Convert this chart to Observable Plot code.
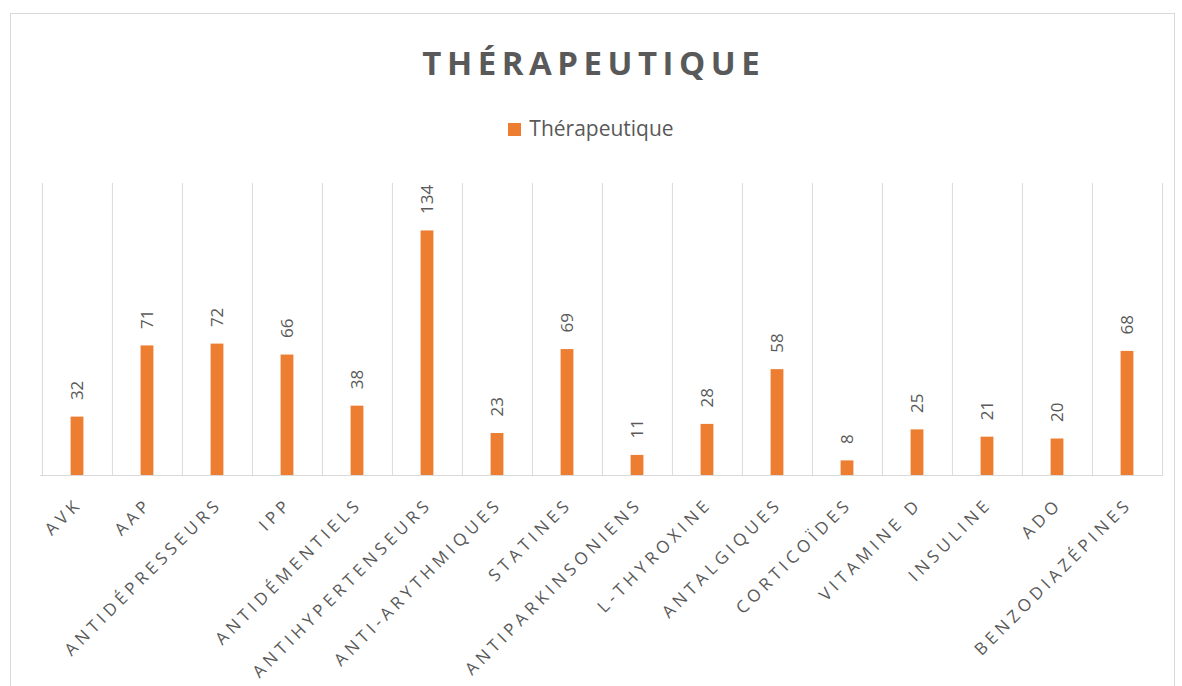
<!DOCTYPE html>
<html>
<head>
<meta charset="utf-8">
<script src="https://cdn.jsdelivr.net/npm/d3@7"></script>
<script src="https://cdn.jsdelivr.net/npm/@observablehq/plot@0.6"></script>
<style>
  html, body { margin: 0; padding: 0; background: #fff; }
  body { width: 1182px; height: 686px; position: relative; overflow: hidden; font-family: "Open Sans", sans-serif; }
  #frame { position: absolute; left: 10px; top: 13px; width: 1165px; height: 700px; border: 1px solid #d9d9d9; box-sizing: border-box; }
  #title { position: absolute; left: 0; width: 1182px; top: 40px; text-align: center; font-size: 33px; font-weight: 700; color: #595959; letter-spacing: 5.5px; padding-left: 5.5px; box-sizing: border-box; }
  #legend { position: absolute; left: 0; width: 1182px; top: 114px; text-align: center; font-size: 21px; color: #595959; }
  #legend .sw { display: inline-block; width: 13px; height: 13px; background: #ED7D31; margin-right: 8px; vertical-align: 0px; }
  #chart { position: absolute; left: 0; top: 160px; }
</style>
</head>
<body>
<div id="frame"></div>
<div id="title">THÉRAPEUTIQUE</div>
<div id="legend"><span class="sw"></span>Thérapeutique</div>
<div id="chart"></div>
<script>
const categories = ["AVK", "AAP", "ANTIDÉPRESSEURS", "IPP", "ANTIDÉMENTIELS", "ANTIHYPERTENSEURS", "ANTI-ARYTHMIQUES", "STATINES", "ANTIPARKINSONIENS", "L-THYROXINE", "ANTALGIQUES", "CORTICOÏDES", "VITAMINE D", "INSULINE", "ADO", "BENZODIAZÉPINES"];
const values = [32, 71, 72, 66, 38, 134, 23, 69, 11, 28, 58, 8, 25, 21, 20, 68];
const seriesName = "Thérapeutique";

const data = categories.map((c, i) => ({category: c, value: values[i]}));

const W = 1182, H = 526, mL = 40, mR = 19, mT = 23, mB = 211;
const band = (W - mL - mR) / categories.length;
const barW = 13;

const chart = Plot.plot({
  width: W, height: H,
  marginLeft: mL, marginRight: mR, marginTop: mT, marginBottom: mB,
  style: {fontFamily: "Open Sans, sans-serif", color: "#595959", background: "transparent"},
  x: {type: "band", domain: categories, padding: 0, axis: null},
  y: {domain: [0, 160], axis: null},
  marks: [
    Plot.ruleX(categories, {x: d => d, y1: 0, y2: 160, dx: -band / 2, stroke: "#d9d9d9", strokeWidth: 1}),
    Plot.ruleX([categories[categories.length - 1]], {x: d => d, y1: 0, y2: 160, dx: band / 2, stroke: "#d9d9d9", strokeWidth: 1}),
    Plot.ruleY([0], {stroke: "#d9d9d9", strokeWidth: 1}),
    Plot.barY(data, {x: "category", y: "value", fill: "#ED7D31", insetLeft: (band - barW) / 2, insetRight: (band - barW) / 2}),
    Plot.text(data, {x: "category", y: "value", text: d => String(d.value), rotate: -90, textAnchor: "start", lineAnchor: "middle", dy: -17, fontSize: 17, fill: "#595959"}),
    Plot.text(categories, {x: d => d, frameAnchor: "bottom", text: d => d, rotate: -45, textAnchor: "end", lineAnchor: "top", dy: 21, dx: -3, fontSize: 17, fill: "#595959"})
  ]
});
const textGroups = chart.querySelectorAll('g[aria-label="text"]');
const xlab = textGroups[textGroups.length - 1];
xlab.style.letterSpacing = "4.3px";
document.getElementById("chart").appendChild(chart);
</script>
</body>
</html>
